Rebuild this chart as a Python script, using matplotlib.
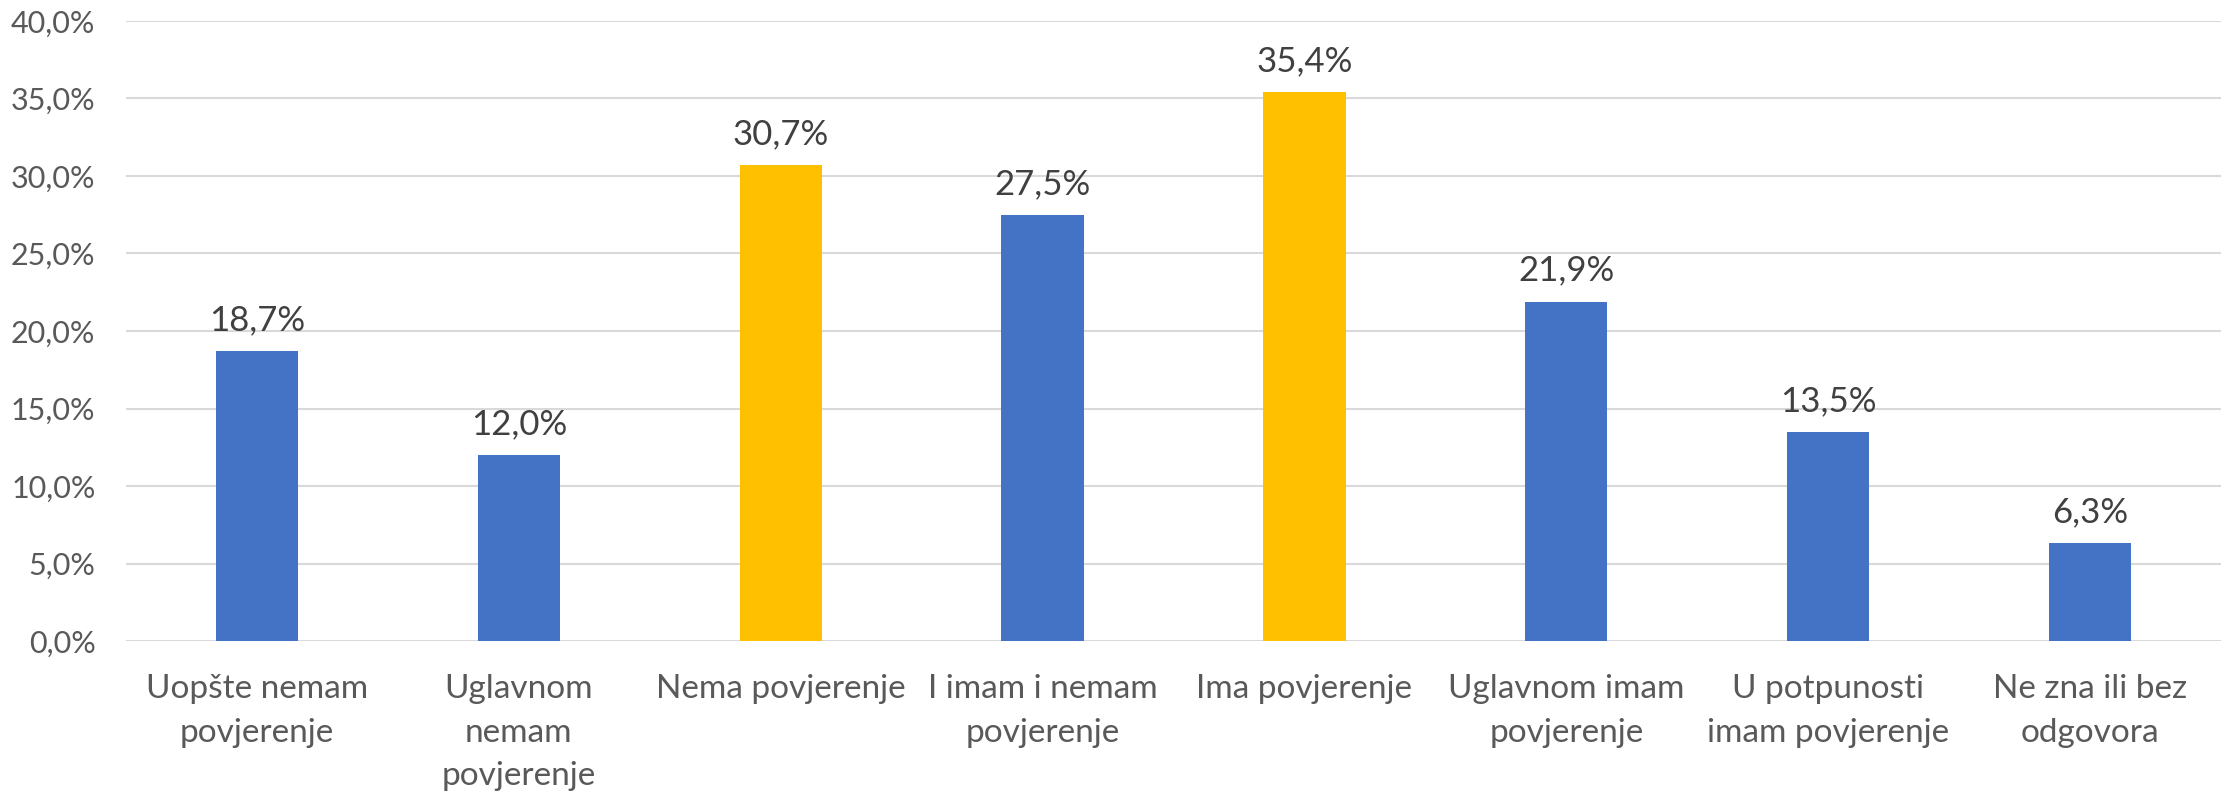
import matplotlib.pyplot as plt
import numpy as np

categories = ['Uopšte nemam\npovjerenje', 'Uglavnom\nnemam\npovjerenje', 'Nema povjerenje',
              'I imam i nemam\npovjerenje', 'Ima povjerenje', 'Uglavnom imam\npovjerenje',
              'U potpunosti\nimam povjerenje', 'Ne zna ili bez\nodgovora']
values = [18.7, 12.0, 30.7, 27.5, 35.4, 21.9, 13.5, 6.3]
highlight = [False, False, True, False, True, False, False, False]

plt.rcParams['font.family'] = ['Lato', 'DejaVu Sans']

fig = plt.figure(figsize=(22.23, 7.97), dpi=100)
ax = fig.add_axes([0.0567, 0.1957, 0.9424, 0.778])

x = np.arange(len(categories))
colors = ['#FFC000' if h else '#4472C4' for h in highlight]
ax.bar(x, values, width=0.314, color=colors, zorder=3)

for xi, v in zip(x, values):
    ax.annotate(f'{v:.1f}%'.replace('.', ','), (xi, v), xytext=(0, 15), textcoords='offset points',
                ha='center', va='baseline', fontsize=25, color='#404040')

ax.set_xlim(-0.5, len(categories) - 0.5)
ax.set_ylim(0, 40)
yt = np.arange(0, 41, 5)
ax.set_yticks(yt)
ax.set_yticklabels([f'{t:.1f}%'.replace('.', ',') for t in yt])
ax.set_xticks(x)
ax.set_xticklabels(categories, linespacing=1.55)
ax.tick_params(axis='both', length=0, colors='#595959')
ax.tick_params(axis='x', pad=24, labelsize=24)
ax.tick_params(axis='y', pad=22, labelsize=22)
ax.grid(axis='y', color='#D9D9D9', linewidth=1.5, zorder=0)
for s in ax.spines.values():
    s.set_visible(False)

fig.savefig('out.png', dpi=100)
